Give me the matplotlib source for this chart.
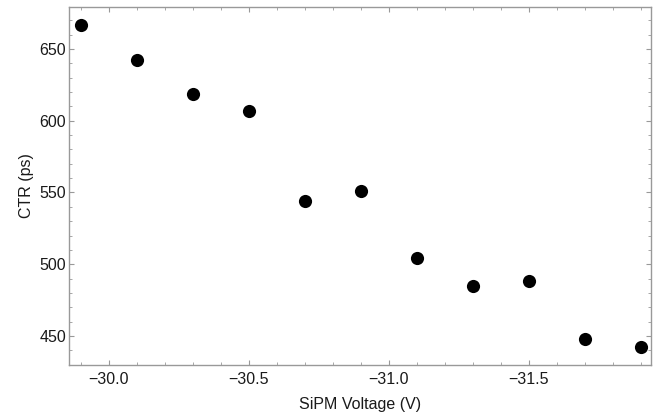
import matplotlib
matplotlib.use("Agg")
import matplotlib.pyplot as plt
from matplotlib.ticker import MultipleLocator

plt.rcParams['font.family'] = ['Liberation Sans', 'DejaVu Sans']

# Data
voltage = [-29.9, -30.1, -30.3, -30.5, -30.7, -30.9, -31.1, -31.3, -31.5, -31.7, -31.9]
ctr = [666.5, 642.5, 618.5, 606.5, 544, 551, 504, 484.5, 488.5, 448, 442]

fig = plt.figure(figsize=(6.57, 4.19), dpi=100)
ax = fig.add_axes([69 / 657, 1 - 365 / 419, (651 - 69) / 657, (365 - 7) / 419])

ax.scatter(voltage, ctr, s=90, color='black', zorder=3, linewidths=0)

ax.set_xlim(-29.858, -31.936)
ax.set_ylim(429.8, 679.2)

ax.xaxis.set_major_locator(MultipleLocator(0.5))
ax.xaxis.set_minor_locator(MultipleLocator(0.1))
ax.yaxis.set_major_locator(MultipleLocator(50))
ax.yaxis.set_minor_locator(MultipleLocator(10))
ax.xaxis.set_major_formatter(plt.FuncFormatter(lambda v, p: f"{v:.1f}".replace('-', '\u2212')))

for s in ax.spines.values():
    s.set_color('#999999')
    s.set_linewidth(1.0)

ax.tick_params(which='both', direction='in', top=True, right=True, color='#999999',
               labelsize=11.5, labelcolor='#1a1a1a')
ax.tick_params(which='major', length=3.6, width=0.8)
ax.tick_params(which='minor', length=2, width=0.6)
ax.tick_params(axis='x', pad=5)
ax.tick_params(axis='y', pad=2)

ax.set_xlabel('SiPM Voltage (V)', fontsize=11.5, color='#1a1a1a', labelpad=7)
ax.set_ylabel('CTR (ps)', fontsize=11.5, color='#1a1a1a', labelpad=4)

fig.savefig('out.png', dpi=100)
